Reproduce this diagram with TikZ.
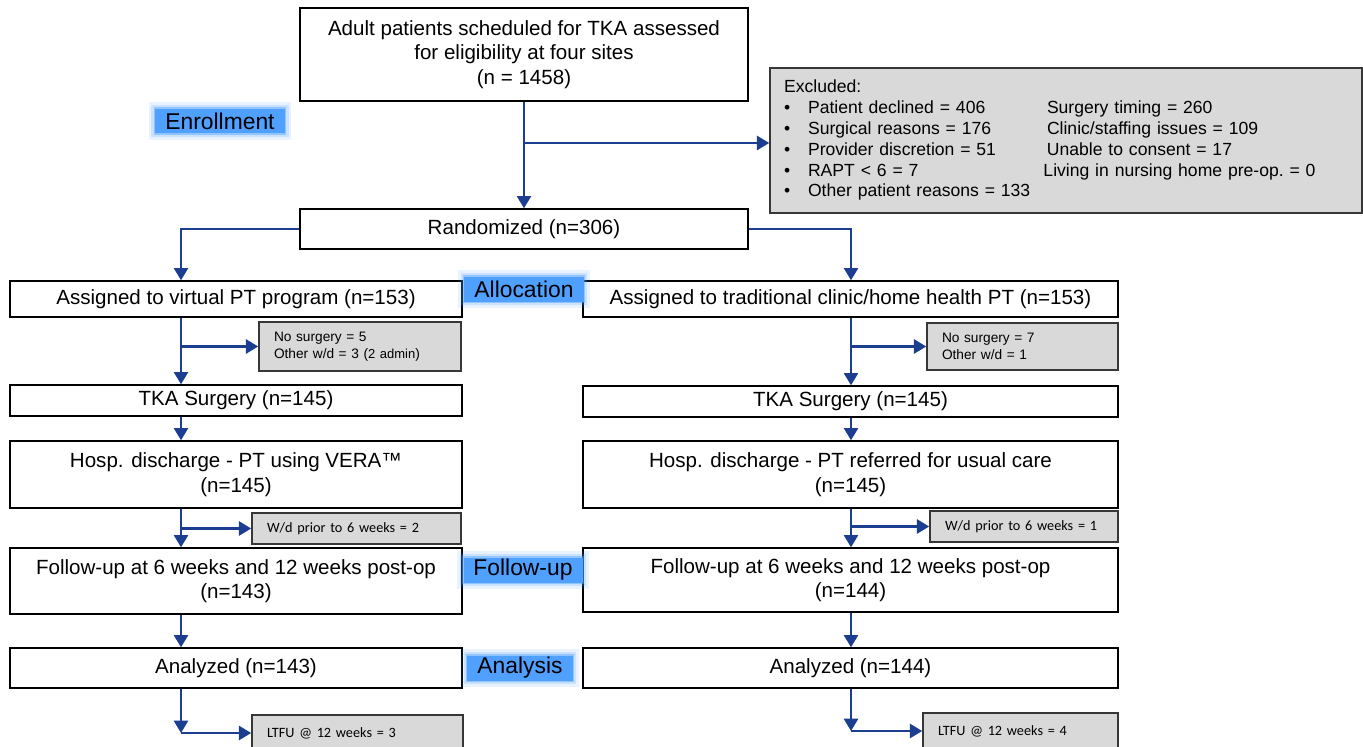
\documentclass[tikz,border=0pt]{standalone}
\usepackage{fontspec}
\setmainfont{Liberation Sans}
\newfontfamily\calib{Carlito}
\usetikzlibrary{arrows.meta}
\definecolor{flowblue}{RGB}{28,62,145}
\definecolor{glowblue}{RGB}{80,160,255}
\definecolor{boxgray}{RGB}{217,217,217}
\definecolor{edgegray}{RGB}{55,55,55}

\begin{document}
\begin{tikzpicture}[x=0.02cm,y=-0.02cm]
    \tikzstyle{box}=[draw=black,line width=0.8pt,fill=white,inner sep=0pt,align=center,font=\fontsize{11.7}{14}\selectfont]
    \tikzstyle{side}=[draw=edgegray,line width=0.9pt,fill=boxgray,inner xsep=0.3cm,inner ysep=0pt,align=left,font=\fontsize{7.8}{9.6}\selectfont]
    \tikzstyle{sidec}=[side,font=\calib\fontsize{8.1}{10}\selectfont,minimum height=0.62cm,inner xsep=0.3cm]
    \tikzstyle{phase}=[fill=glowblue,inner xsep=0.2cm,inner ysep=0pt,minimum height=0.5cm,font=\fontsize{13}{15}\selectfont,
        preaction={draw=glowblue,line width=7pt,opacity=0.12,rounded corners=2pt},
        preaction={draw=glowblue,line width=4.5pt,opacity=0.2,rounded corners=1pt},
        preaction={draw=glowblue,line width=2pt,opacity=0.45}]
    \tikzstyle{flow}=[draw=flowblue,line width=1.4pt,-{Triangle[width=8pt,length=7pt]}]

    \useasboundingbox (0,0) rectangle (1363,747);
    \clip (0,0) rectangle (1363,747);
    \fill[white] (0,0) rectangle (1363,747);

    \node[box,minimum width=8.96cm,minimum height=1.86cm] (top) at (524,54.5)
        {Adult patients scheduled for TKA assessed\\ for eligibility at four sites\\ (n = 1458)};
    \node[side,text width=11.28cm,minimum height=2.9cm,inner xsep=0.28cm,font=\fontsize{10}{11.9}\selectfont] (excl) at (1066,140.5) {%
        \begin{tabular}{@{}p{0.48cm}@{}p{4.78cm}@{}l@{}}
        \multicolumn{3}{@{}l}{Excluded:}\\
        \textbullet & Patient declined = 406 & Surgery timing = 260\\
        \textbullet & Surgical reasons = 176 & Clinic/staffing issues = 109\\
        \textbullet & Provider discretion = 51 & Unable to consent = 17\\
        \textbullet & RAPT < 6 = 7 & \hspace{-2pt}Living in nursing home pre-op.\ = 0\\
        \textbullet & Other patient reasons = 133 &
        \end{tabular}};
    \node[box,minimum width=8.96cm,minimum height=0.8cm] (rand) at (524,229) {Randomized (n=306)};

    \node[box,minimum width=9.04cm,minimum height=0.72cm] (asgL) at (236,299) {Assigned to virtual PT program (n=153)};
    \node[box,minimum width=10.7cm,minimum height=0.72cm] (asgR) at (850.5,299) {Assigned to traditional clinic/home health PT (n=153)};
    \node[side,text width=3.44cm,minimum height=0.98cm] (wdL) at (360,346.5) {No surgery = 5\\ Other w/d = 3 ({\fontsize{7.4}{9}\selectfont 2 admin})};
    \node[side,text width=3.22cm,minimum height=0.94cm] (wdR) at (1022.5,346.5) {No surgery = 7\\ Other w/d = 1};
    \node[box,minimum width=9.04cm,minimum height=0.62cm] (tkaL) at (236,400.5) {TKA Surgery (n=145)};
    \node[box,minimum width=10.7cm,minimum height=0.62cm] (tkaR) at (850.5,401.5) {TKA Surgery (n=145)};
    \node[box,minimum width=9.04cm,minimum height=1.34cm] (hospL) at (236,474.5) {Hosp. discharge - PT using VERA™\\ (n=145)};
    \node[box,minimum width=10.7cm,minimum height=1.34cm] (hospR) at (850.5,474.5) {Hosp. discharge - PT referred for usual care\\ (n=145)};
    \node[sidec,text width=3.58cm] (sixL) at (356.5,528.5) {W/d prior to 6 weeks = 2};
    \node[sidec,text width=3.16cm] (sixR) at (1024,526.5) {W/d prior to 6 weeks = 1};
    \node[box,minimum width=9.04cm,minimum height=1.32cm] (fuL) at (236,581) {Follow-up at 6 weeks and 12 weeks post-op\\ (n=143)};
    \node[box,minimum width=10.7cm,minimum height=1.28cm] (fuR) at (850.5,580) {Follow-up at 6 weeks and 12 weeks post-op\\ (n=144)};
    \node[box,minimum width=9.04cm,minimum height=0.8cm] (anL) at (236,668) {Analyzed (n=143)};
    \node[box,minimum width=10.7cm,minimum height=0.8cm] (anR) at (850.5,668) {Analyzed (n=144)};
    \node[sidec,text width=3.62cm,minimum height=0.72cm] (lostL) at (357.5,733) {LTFU @ 12 weeks = 3};
    \node[sidec,text width=3.3cm,minimum height=0.72cm] (lostR) at (1020.5,731) {LTFU @ 12 weeks = 4};

    \coordinate (cL) at (181,0);
    \coordinate (cR) at (851,0);
    \coordinate (bx) at (524,143);
    \draw[flow] (top) -- (rand);
    \draw[flow] (bx) -- (bx -| excl.west);
    \draw[flow] (rand.west) -| (cL |- asgL.north);
    \draw[flow] (rand.east) -| (cR |- asgR.north);

    \draw[flow] (cL |- asgL.south) -- (cL |- tkaL.north);
    \draw[flow] (cL |- wdL.west) -- (wdL.west);
    \draw[flow] (cL |- tkaL.south) -- (cL |- hospL.north);
    \draw[flow] (cL |- hospL.south) -- (cL |- fuL.north);
    \draw[flow] (cL |- sixL.west) -- (sixL.west);
    \draw[flow] (cL |- fuL.south) -- (cL |- anL.north);
    \draw[flow] (cL |- anL.south) -- (cL |- lostL.west);
    \draw[flow] (cL |- lostL.west) -- (lostL.west);

    \draw[flow] (cR |- asgR.south) -- (cR |- tkaR.north);
    \draw[flow] (cR |- wdR.west) -- (wdR.west);
    \draw[flow] (cR |- tkaR.south) -- (cR |- hospR.north);
    \draw[flow] (cR |- hospR.south) -- (cR |- fuR.north);
    \draw[flow] (cR |- sixR.west) -- (sixR.west);
    \draw[flow] (cR |- fuR.south) -- (cR |- anR.north);
    \draw[flow] (cR |- anR.south) -- (cR |- lostR.west);
    \draw[flow] (cR |- lostR.west) -- (lostR.west);

    \node[phase] (enrol) at (220,121) {Enrollment};
    \node[phase] (alloc) at (524,289) {Allocation};
    \node[phase] (follow) at (523,570) {Follow-up};
    \node[phase] (analysis) at (520,668) {Analysis};
\end{tikzpicture}
\end{document}
